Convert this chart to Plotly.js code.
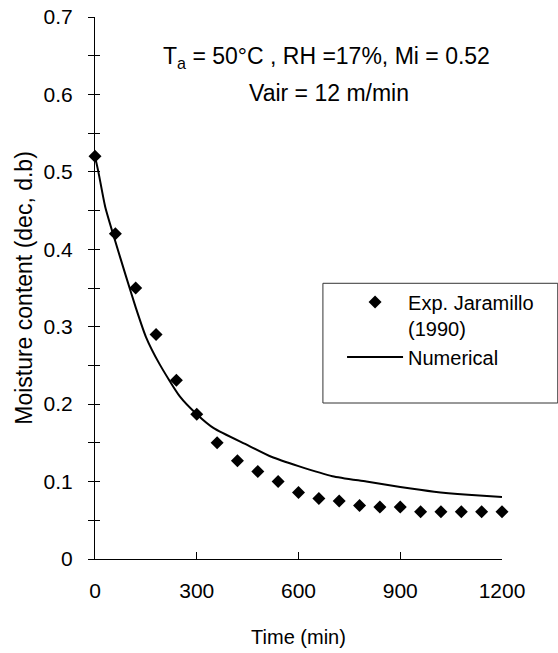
<!DOCTYPE html>
<html>
<head>
<meta charset="utf-8">
<script src="https://cdn.plot.ly/plotly-3.0.1.min.js"></script>
<style>html,body{margin:0;padding:0;background:#fff;}#chart{width:558px;height:653px;}</style>
</head>
<body>
<div id="chart"></div>
<script>
// Experimental data (Jaramillo 1990)
var expTime = [0, 60, 120, 180, 240, 300, 360, 420, 480, 540, 600, 660, 720, 780, 840, 900, 960, 1020, 1080, 1140, 1200];
var expMoisture = [0.52, 0.42, 0.35, 0.29, 0.231, 0.187, 0.15, 0.127, 0.113, 0.100, 0.086, 0.078, 0.075, 0.069, 0.067, 0.067, 0.061, 0.061, 0.061, 0.061, 0.061];

// Numerical solution
var numTime = [0, 10, 30, 60, 90, 120, 150, 190, 250, 300, 350, 450, 520, 600, 700, 800, 900, 1000, 1100, 1200];
var numMoisture = [0.52, 0.50, 0.455, 0.41, 0.367, 0.325, 0.287, 0.252, 0.21, 0.187, 0.169, 0.147, 0.132, 0.12, 0.107, 0.1, 0.093, 0.087, 0.083, 0.08];

var xTicks = [0, 300, 600, 900, 1200];
var yTicks = [0, 0.1, 0.2, 0.3, 0.4, 0.5, 0.6, 0.7];
var yTickText = ['0', '0.1', '0.2', '0.3', '0.4', '0.5', '0.6', '0.7'];

var FONT = 'Liberation Sans, Arial, sans-serif';

var traces = [
  {
    x: expTime, y: expMoisture, type: 'scatter', mode: 'markers',
    name: 'Exp. Jaramillo<br>(1990)',
    marker: {symbol: 'diamond', size: 10, color: '#000', line: {width: 0}},
    cliponaxis: false
  },
  {
    x: numTime, y: numMoisture, type: 'scatter', mode: 'lines',
    name: 'Numerical',
    line: {color: '#000', width: 2, shape: 'spline', smoothing: 0.6},
    cliponaxis: false
  },
  {
    x: [0], y: [0], yaxis: 'y2', type: 'scatter', mode: 'markers',
    marker: {opacity: 0}, showlegend: false, hoverinfo: 'skip'
  }
];

var layout = {
  width: 558, height: 653,
  margin: {l: 95, r: 56, t: 17, b: 94},
  paper_bgcolor: '#fff', plot_bgcolor: '#fff',
  font: {family: FONT, size: 21, color: '#000'},
  showlegend: true,
  legend: {
    x: 0.607, y: 0.51, xanchor: 'left', yanchor: 'top',
    bgcolor: 'rgba(0,0,0,0)', borderwidth: 0,
    font: {family: FONT, size: 20, color: '#000'},
    valign: 'top', itemwidth: 56, tracegroupgap: 0
  },
  xaxis: {
    range: [0, 1200], tickvals: xTicks, ticktext: xTicks.map(String),
    ticks: 'inside', ticklen: 7, tickwidth: 1, tickcolor: '#000',
    showline: true, linecolor: '#000', linewidth: 1,
    showgrid: false, zeroline: false, ticklabelstandoff: 13,
    tickfont: {family: FONT, size: 21},
    title: {text: 'Time (min)', font: {family: FONT, size: 20}, standoff: 28}
  },
  yaxis: {
    range: [0, 0.7], tickvals: yTicks, ticktext: yTickText,
    ticks: 'outside', ticklen: 6, tickwidth: 1, tickcolor: '#000',
    minor: {dtick: 0.05, tick0: 0, ticks: 'outside', ticklen: 6, tickwidth: 1, tickcolor: '#000', showgrid: false},
    showline: true, linecolor: '#000', linewidth: 1,
    showgrid: false, zeroline: false, ticklabelstandoff: 11,
    tickfont: {family: FONT, size: 21},
    title: {text: 'Moisture content (dec, d.b)', font: {family: FONT, size: 23}, standoff: 4}
  },
  yaxis2: {
    overlaying: 'y', anchor: 'x', side: 'left',
    range: [0, 0.7], tickvals: yTicks, showticklabels: false,
    ticks: 'inside', ticklen: 5, tickwidth: 1, tickcolor: '#000',
    minor: {dtick: 0.05, tick0: 0, ticks: 'inside', ticklen: 5, tickwidth: 1, tickcolor: '#000', showgrid: false},
    showline: false, showgrid: false, zeroline: false
  },
  shapes: [
    {type: 'rect', xref: 'paper', yref: 'paper', x0: 0.56, x1: 1.137, y0: 0.2878, y1: 0.5087,
     line: {color: '#333', width: 1}, fillcolor: 'rgba(0,0,0,0)'}
  ],
  annotations: [
    {xref: 'paper', yref: 'paper', x: 0.569, y: 0.926, xanchor: 'center', yanchor: 'middle', showarrow: false,
     text: 'T<sub>a</sub> = 50°C , RH =17%, Mi = 0.52', font: {family: FONT, size: 23, color: '#000'}},
    {xref: 'paper', yref: 'paper', x: 0.575, y: 0.860, xanchor: 'center', yanchor: 'middle', showarrow: false,
     text: 'Vair = 12 m/min', font: {family: FONT, size: 23, color: '#000'}}
  ]
};

Plotly.newPlot('chart', traces, layout, {displayModeBar: false, staticPlot: true});
</script>
</body>
</html>
